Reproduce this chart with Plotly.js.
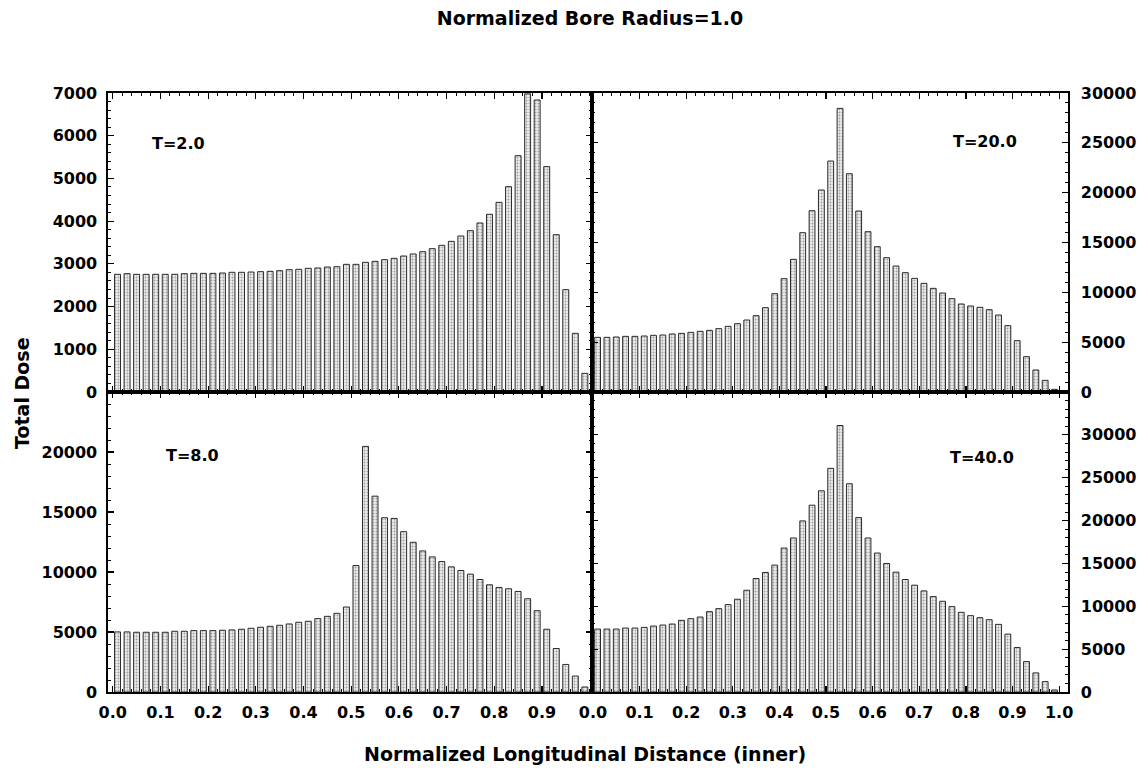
<!DOCTYPE html>
<html>
<head>
<meta charset="utf-8">
<script src="https://cdn.plot.ly/plotly-3.0.1.min.js"></script>
<style>
  html, body { margin: 0; padding: 0; background: #ffffff; }
  #chart { width: 1138px; height: 775px; }
</style>
</head>
<body>
<div id="chart"></div>
<script>
// Bin centres (normalized longitudinal distance)
const binCenters = [0.01,0.03,0.05,0.07,0.09,0.11,0.13,0.15,0.17,0.19,
                    0.21,0.23,0.25,0.27,0.29,0.31,0.33,0.35,0.37,0.39,
                    0.41,0.43,0.45,0.47,0.49,0.51,0.53,0.55,0.57,0.59,
                    0.61,0.63,0.65,0.67,0.69,0.71,0.73,0.75,0.77,0.79,
                    0.81,0.83,0.85,0.87,0.89,0.91,0.93,0.95,0.97,0.99];

// Total dose, T=2.0
const doseT2 = [2755,2770,2755,2755,2755,2755,2755,2770,2778,2778,
                2778,2786,2802,2802,2809,2817,2825,2840,2864,2872,
                2895,2903,2926,2934,2989,2989,3036,3059,3098,3129,
                3184,3231,3285,3356,3434,3527,3652,3777,3957,4160,
                4440,4807,5533,6980,6836,5276,3683,2396,1373,437];

// Total dose, T=20.0
const doseT20 = [5484,5484,5518,5584,5584,5618,5685,5718,5819,5885,
                 5986,6086,6186,6354,6588,6855,7223,7658,8460,9865,
                 11370,13309,15984,18191,20264,23174,28457,21903,18158,16085,
                 14580,13476,12640,11972,11403,10901,10400,9932,9363,8828,
                 8628,8494,8260,7725,6655,5150,3545,2207,1170,268];

// Total dose, T=8.0
const doseT8 = [5007,5007,4979,4979,4979,4979,5062,5062,5117,5117,
                5117,5145,5172,5228,5311,5394,5477,5560,5670,5809,
                5892,6113,6306,6555,7081,10538,20468,16319,14522,14466,
                13360,12475,11756,11258,10870,10428,10124,9819,9377,8934,
                8713,8602,8381,7772,6777,5228,3623,2296,1328,415];

// Total dose, T=40.0
const doseT40 = [7343,7343,7343,7460,7460,7539,7695,7812,7929,8359,
                 8554,8749,9374,9726,10195,10820,11874,13241,13944,14804,
                 16796,17968,19960,21795,23475,26092,31092,24295,20350,17968,
                 16210,14999,13983,13124,12460,11796,11132,10585,9960,9296,
                 8906,8671,8437,7890,6757,5195,3554,2226,1211,234];

const panelLabels = ["T=2.0", "T=20.0", "T=8.0", "T=40.0"];
const xTicksLeft = [0, 0.1, 0.2, 0.3, 0.4, 0.5, 0.6, 0.7, 0.8, 0.9];
const xTicksRight = [0, 0.1, 0.2, 0.3, 0.4, 0.5, 0.6, 0.7, 0.8, 0.9, 1.0];
const yTicksTL = [0, 1000, 2000, 3000, 4000, 5000, 6000, 7000];
const yTicksTR = [0, 5000, 10000, 15000, 20000, 25000, 30000];
const yTicksBL = [0, 5000, 10000, 15000, 20000];
const yTicksBR = [0, 5000, 10000, 15000, 20000, 25000, 30000];

const FONT = "DejaVu Sans, Liberation Sans, Arial, sans-serif";

function barTrace(y, xa, ya) {
  return {
    type: "bar",
    x: binCenters,
    y: y,
    xaxis: xa,
    yaxis: ya,
    width: 0.0125,
    marker: {
      color: "#e6e6e6",
      line: { color: "#2a2a2a", width: 1 },
      pattern: { shape: ".", fgcolor: "#a0a0a0", bgcolor: "#ececec", size: 3, solidity: 0.3, fillmode: "replace" }
    },
    hoverinfo: "x+y",
    showlegend: false
  };
}

const data = [
  barTrace(doseT2, "x", "y"),
  barTrace(doseT20, "x2", "y2"),
  barTrace(doseT8, "x3", "y3"),
  barTrace(doseT40, "x4", "y4")
];

const L = 108, R = 1068, T = 93, B = 692;
const W = R - L, H = B - T;
const xSplit = (592 - L) / W;
const ySplit = (B - 392) / H;

const tickFont = { family: FONT, size: 16, color: "#000", weight: "bold" };

function xAxis(domain, anchor, range, tickvals, showLabels) {
  return {
    domain: domain, anchor: anchor, range: range,
    tickvals: tickvals, tickformat: ".1f",
    showticklabels: showLabels,
    ticks: "inside", ticklen: 6, tickwidth: 1.2, tickcolor: "#000",
    minor: { ticks: "inside", ticklen: 3, dtick: 0.02, tick0: 0, tickcolor: "#000", tickwidth: 1 },
    showline: true, linecolor: "#000", linewidth: 1.6, mirror: "ticks",
    showgrid: false, zeroline: false,
    tickfont: tickFont, ticklabelstandoff: 5
  };
}
function yAxis(domain, anchor, range, tickvals, minorDtick, side) {
  return {
    domain: domain, anchor: anchor, range: range, side: side,
    tickvals: tickvals, tickformat: "d",
    ticks: "inside", ticklen: 6, tickwidth: 1.2, tickcolor: "#000",
    minor: { ticks: "inside", ticklen: 3, dtick: minorDtick, tick0: 0, tickcolor: "#000", tickwidth: 1 },
    showline: true, linecolor: "#000", linewidth: 1.6, mirror: "ticks",
    showgrid: false, zeroline: false,
    tickfont: tickFont, ticklabelstandoff: side === "right" ? 8 : 6
  };
}

const leftRange = [-0.01, 1.005];
const rightRange = [-0.002, 1.019];

function px2x(px) { return (px - L) / W; }
function py2y(py) { return (B - py) / H; }

const annFont = { family: FONT, size: 16, color: "#000", weight: "bold" };
const annPos = [[178, 143], [985, 141], [192, 455], [982, 457]];
const annotations = panelLabels.map((t, i) => ({
  text: t, xref: "paper", yref: "paper",
  x: px2x(annPos[i][0]), y: py2y(annPos[i][1]),
  xanchor: "center", yanchor: "middle", showarrow: false, font: annFont
}));
annotations.push({
  text: "Normalized Longitudinal Distance (inner)", xref: "paper", yref: "paper",
  x: px2x(585), y: py2y(754), xanchor: "center", yanchor: "middle", showarrow: false,
  font: { family: FONT, size: 19, color: "#000", weight: "bold" }
});
annotations.push({
  text: "Total Dose", xref: "paper", yref: "paper",
  x: px2x(22), y: py2y(393), xanchor: "center", yanchor: "middle", showarrow: false,
  textangle: -90,
  font: { family: FONT, size: 19, color: "#000", weight: "bold" }
});

const layout = {
  width: 1138, height: 775,
  margin: { l: L, r: 1138 - R, t: T, b: 775 - B, pad: 0 },
  paper_bgcolor: "#fff", plot_bgcolor: "#fff",
  title: {
    text: "Normalized Bore Radius=1.0",
    x: 590 / 1138, xanchor: "center", y: 1 - 18 / 775, yanchor: "middle",
    font: { family: FONT, size: 19, color: "#000", weight: "bold" }
  },
  bargap: 0,
  xaxis: xAxis([0, xSplit], "y", leftRange, xTicksLeft, false),
  yaxis: yAxis([ySplit, 1], "x", [0, 7000], yTicksTL, 200, "left"),
  xaxis2: xAxis([xSplit, 1], "y2", rightRange, xTicksRight, false),
  yaxis2: yAxis([ySplit, 1], "x2", [0, 30000], yTicksTR, 1000, "right"),
  xaxis3: xAxis([0, xSplit], "y3", leftRange, xTicksLeft, true),
  yaxis3: yAxis([0, ySplit], "x3", [0, 25000], yTicksBL, 1000, "left"),
  xaxis4: xAxis([xSplit, 1], "y4", rightRange, xTicksRight, true),
  yaxis4: yAxis([0, ySplit], "x4", [0, 35000], yTicksBR, 1000, "right"),
  annotations: annotations
};

Plotly.newPlot("chart", data, layout, { displayModeBar: false, staticPlot: true });
</script>
</body>
</html>
